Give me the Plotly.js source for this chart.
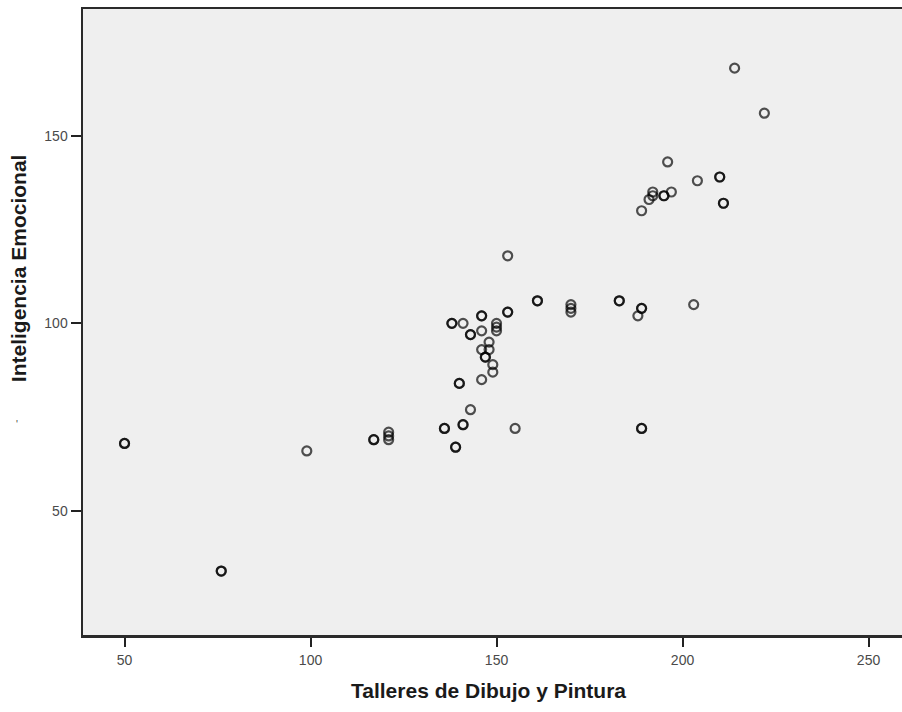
<!DOCTYPE html>
<html>
<head>
<meta charset="utf-8">
<script src="https://cdn.plot.ly/plotly-3.0.1.min.js"></script>
<style>html,body{margin:0;padding:0;background:#fff;}#chart{width:902px;height:712px;}</style>
</head>
<body>
<div id="chart"></div>
<script>
// Talleres de Dibujo y Pintura (x) vs Inteligencia Emocional (y); repeated pairs are overlapping cases
var talleres = [50,50,76,76,99,117,117,121,121,121,136,136,139,139,141,141,143,155,
  140,140,146,149,149,147,147,146,148,148,138,138,141,143,143,146,146,146,150,150,150,
  153,153,153,161,161,170,170,170,183,183,189,189,188,203,189,189,
  189,191,192,192,195,195,197,196,204,210,210,211,211,214,222];
var inteligencia = [68,68,34,34,66,69,69,69,70,71,72,72,67,67,73,73,77,72,
  84,84,85,89,87,91,91,93,93,95,100,100,100,97,97,102,102,98,100,99,98,
  103,103,118,106,106,103,104,105,106,106,104,104,102,105,72,72,
  130,133,135,134,134,134,135,143,138,139,139,132,132,168,156];
var xTickVals = [50,100,150,200,250];
var yTickVals = [50,100,150];
var xTitle = "Talleres de Dibujo y Pintura";
var yTitle = "Inteligencia Emocional";

var trace = {
  type: 'scatter', mode: 'markers',
  x: talleres, y: inteligencia,
  marker: {symbol: 'circle-open', size: 9, color: 'rgba(0,0,0,0.68)', line: {width: 2.2, color: 'rgba(0,0,0,0.68)'}},
  hoverinfo: 'x+y'
};
var tickFont = {family: 'Liberation Sans, Arial, sans-serif', size: 14, color: '#4a4a4a'};
var layout = {
  width: 902, height: 712,
  margin: {l: 83, r: 0, t: 9, b: 77},
  paper_bgcolor: '#ffffff', plot_bgcolor: '#efefef',
  showlegend: false,
  xaxis: {range: [38.84, 259.0], tickvals: xTickVals, ticks: 'outside', ticklen: 9, tickwidth: 2, tickcolor: '#222',
    showgrid: false, zeroline: false, showline: true, linewidth: 2.5, linecolor: '#2a2a2a', mirror: true,
    tickfont: tickFont, ticklabelstandoff: 2},
  yaxis: {range: [16.96, 183.76], tickvals: yTickVals, ticks: 'outside', ticklen: 10, tickwidth: 2, tickcolor: '#222',
    showgrid: false, zeroline: false, showline: true, linewidth: 2.5, linecolor: '#2a2a2a',
    tickfont: tickFont, ticklabelstandoff: 0},
  annotations: [
    {text: xTitle, xref: 'paper', yref: 'paper', x: 0.4957, y: 0, yshift: -55, xanchor: 'center', yanchor: 'middle',
     showarrow: false, font: {family: 'Liberation Sans, Arial, sans-serif', size: 21, color: '#1a1a1a', weight: 'bold'}},
    {text: yTitle, xref: 'paper', yref: 'paper', x: 0, xshift: -65, y: 0.586, xanchor: 'center', yanchor: 'middle',
     textangle: -90, showarrow: false, font: {family: 'Liberation Sans, Arial, sans-serif', size: 21, color: '#1a1a1a', weight: 'bold'}},
    {text: "'", xref: 'paper', yref: 'paper', x: 0, xshift: -66, y: 0.337, xanchor: 'center', yanchor: 'middle',
     showarrow: false, font: {family: 'Liberation Sans, Arial, sans-serif', size: 10, color: '#444'}}
  ]
};
Plotly.newPlot('chart', [trace], layout, {displayModeBar: false, staticPlot: true});
</script>
</body>
</html>
